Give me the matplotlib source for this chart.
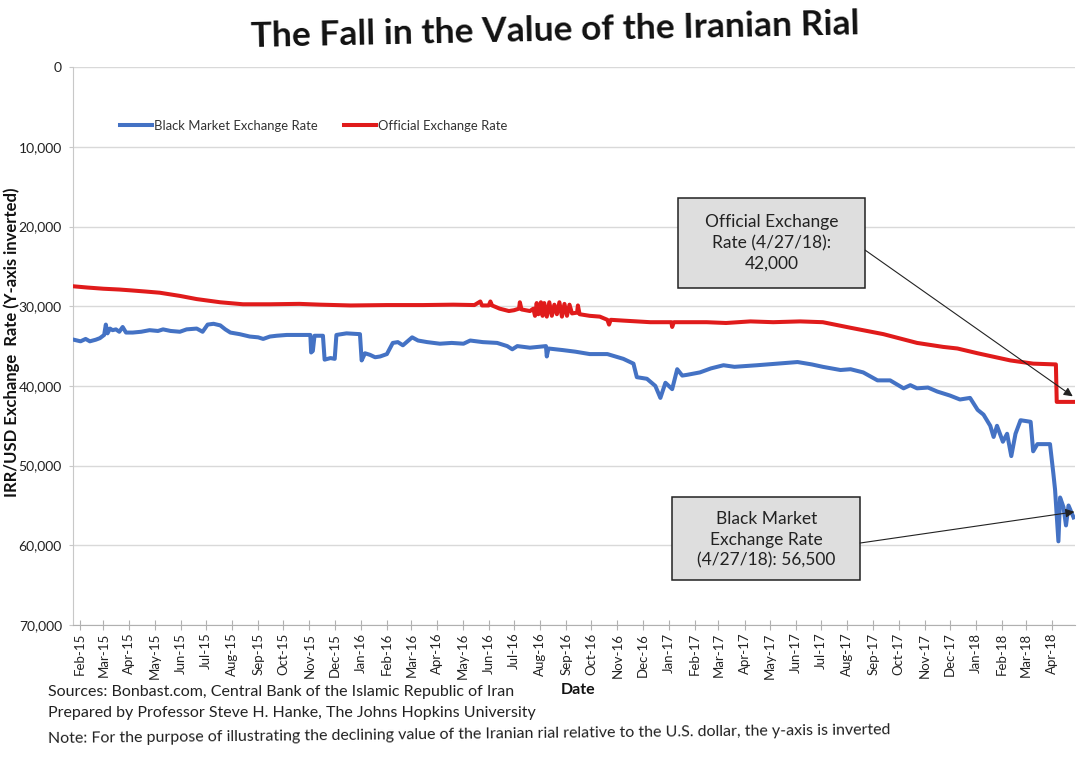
import matplotlib
matplotlib.use("Agg")
import matplotlib.pyplot as plt
import matplotlib.dates as mdates
from matplotlib.ticker import FuncFormatter
from matplotlib.patches import Rectangle
import pandas as pd

# ---------------- data ----------------
bm_dates = [
    "2015-01-25", "2015-02-02", "2015-02-08", "2015-02-13", "2015-02-20", "2015-02-25",
    "2015-03-02", "2015-03-04", "2015-03-06", "2015-03-09", "2015-03-12", "2015-03-16",
    "2015-03-20", "2015-03-24", "2015-03-28", "2015-04-05", "2015-04-15", "2015-04-25",
    "2015-05-05", "2015-05-11", "2015-05-20", "2015-05-31", "2015-06-08", "2015-06-20",
    "2015-06-27", "2015-07-03", "2015-07-10", "2015-07-18", "2015-07-24", "2015-07-30",
    "2015-08-10", "2015-08-22", "2015-09-01", "2015-09-07", "2015-09-15", "2015-09-23",
    "2015-10-05", "2015-10-21", "2015-11-02", "2015-11-03", "2015-11-05", "2015-11-07",
    "2015-11-17", "2015-11-19", "2015-11-26", "2015-12-01", "2015-12-03", "2015-12-15",
    "2015-12-31", "2016-01-02", "2016-01-06", "2016-01-12", "2016-01-18", "2016-01-24",
    "2016-02-01", "2016-02-08", "2016-02-14", "2016-02-20", "2016-03-02", "2016-03-09",
    "2016-03-20", "2016-04-04", "2016-04-18", "2016-05-02", "2016-05-10", "2016-05-25",
    "2016-06-11", "2016-06-23", "2016-06-29", "2016-07-05", "2016-07-20", "2016-08-08",
    "2016-08-09", "2016-08-11", "2016-08-28", "2016-09-12", "2016-09-29", "2016-10-20",
    "2016-11-08", "2016-11-20", "2016-11-24", "2016-12-06", "2016-12-16", "2016-12-22",
    "2016-12-28", "2017-01-05", "2017-01-11", "2017-01-17", "2017-01-23", "2017-02-07",
    "2017-02-20", "2017-03-07", "2017-03-20", "2017-04-16", "2017-05-10", "2017-06-03",
    "2017-06-20", "2017-07-03", "2017-07-24", "2017-08-05", "2017-08-20", "2017-09-06",
    "2017-09-21", "2017-10-07", "2017-10-15", "2017-10-23", "2017-11-05", "2017-11-16",
    "2017-12-01", "2017-12-13", "2017-12-25", "2018-01-03", "2018-01-10", "2018-01-18",
    "2018-01-22", "2018-01-26", "2018-02-02", "2018-02-07", "2018-02-12", "2018-02-17",
    "2018-02-23", "2018-03-07", "2018-03-10", "2018-03-15", "2018-03-30", "2018-04-03",
    "2018-04-05", "2018-04-09", "2018-04-11", "2018-04-15", "2018-04-18", "2018-04-21",
    "2018-04-27",
]
bm_values = [
    34200, 34400, 34100, 34400, 34200, 34000,
    33600, 32300, 33400, 32800, 33000, 32900,
    33200, 32600, 33300, 33300, 33200, 33000,
    33100, 32900, 33100, 33200, 32900, 32800,
    33200, 32300, 32200, 32400, 32900, 33300,
    33500, 33800, 33900, 34100, 33800, 33700,
    33600, 33600, 33600, 35800, 35600, 33700,
    33700, 36700, 36500, 36600, 33600, 33400,
    33500, 36800, 35900, 36100, 36400, 36300,
    36000, 34600, 34500, 34900, 33900, 34300,
    34500, 34700, 34600, 34700, 34300, 34500,
    34600, 35000, 35400, 35000, 35200, 35000,
    36300, 35300, 35500, 35700, 36000, 36000,
    36600, 37200, 38900, 39100, 40000, 41500,
    39600, 40400, 37900, 38700, 38600, 38300,
    37800, 37400, 37600, 37400, 37200, 37000,
    37300, 37600, 38000, 37900, 38300, 39300,
    39300, 40300, 39900, 40300, 40200, 40700,
    41200, 41700, 41500, 43000, 43600, 45000,
    46400, 45000, 47000, 46000, 48800, 46000,
    44300, 44500, 48200, 47300, 47300, 51000,
    53000, 59500, 54000, 55200, 57500, 55000,
    56500,
]

off_dates = [
    "2015-01-25", "2015-02-10", "2015-03-01", "2015-03-20", "2015-04-02", "2015-04-20",
    "2015-05-07", "2015-05-31", "2015-06-20", "2015-07-18", "2015-08-14", "2015-09-15",
    "2015-10-20", "2015-11-14", "2015-12-20", "2016-02-01", "2016-03-15", "2016-04-20",
    "2016-05-15", "2016-05-22", "2016-05-24", "2016-06-01", "2016-06-03", "2016-06-05",
    "2016-06-14", "2016-06-25", "2016-07-01", "2016-07-07", "2016-07-08", "2016-07-10",
    "2016-07-20", "2016-07-24", "2016-07-26", "2016-07-28", "2016-07-30", "2016-08-02",
    "2016-08-04", "2016-08-06", "2016-08-09", "2016-08-12", "2016-08-15", "2016-08-18",
    "2016-08-21", "2016-08-24", "2016-08-27", "2016-08-30", "2016-09-02", "2016-09-05",
    "2016-09-08", "2016-09-14", "2016-09-15", "2016-09-17", "2016-09-29", "2016-10-11",
    "2016-10-20", "2016-10-22", "2016-10-24", "2016-11-08", "2016-12-10", "2017-01-04",
    "2017-01-05", "2017-01-07", "2017-02-15", "2017-03-10", "2017-04-08", "2017-05-05",
    "2017-06-06", "2017-07-03", "2017-08-05", "2017-09-13", "2017-10-23", "2017-11-23",
    "2017-12-10", "2018-01-03", "2018-02-11", "2018-03-10", "2018-04-06", "2018-04-07",
    "2018-04-27",
]
off_values = [
    27500, 27650, 27800, 27900, 28000, 28150,
    28300, 28700, 29100, 29500, 29750, 29750,
    29700, 29800, 29900, 29850, 29850, 29800,
    29850, 29400, 29900, 29900, 29400, 29900,
    30300, 30600, 30500, 30300, 29500, 30400,
    30600, 30300, 31200, 29600, 31000, 29500,
    31200, 29600, 31300, 29500, 31200, 29800,
    31000, 29500, 31300, 29700, 31200, 29800,
    30900, 30800, 29900, 31000, 31200, 31300,
    31700, 32300, 31700, 31800, 32000, 32000,
    32600, 32000, 32000, 32100, 31900, 32000,
    31900, 32000, 32700, 33500, 34600, 35100,
    35300, 35900, 36800, 37200, 37300, 42000,
    42000,
]

y_ticks = [0, 10000, 20000, 30000, 40000, 50000, 60000, 70000]

title = "The Fall in the Value of the Iranian Rial"
y_label = "IRR/USD Exchange  Rate (Y-axis inverted)"
x_label = "Date"
series_names = ["Black Market Exchange Rate", "Official Exchange Rate"]
official_callout = "Official Exchange\nRate (4/27/18):\n42,000"
black_callout = "Black Market\nExchange Rate\n(4/27/18): 56,500"
official_point = ("2018-04-26", 41300)
black_point = ("2018-04-28", 55800)
footnotes = [
    "Sources: Bonbast.com, Central Bank of the Islamic Republic of Iran",
    "Prepared by Professor Steve H. Hanke, The Johns Hopkins University",
    "Note: For the purpose of illustrating the declining value of the Iranian rial relative to the U.S. dollar, the y-axis is inverted",
]

# ---------------- figure ----------------
plt.rcParams["font.family"] = ["Lato", "DejaVu Sans"]
BLUE = "#4472C4"
RED = "#E01B1B"

fig = plt.figure(figsize=(10.8, 7.6), dpi=100)
ax = fig.add_axes([0.0676, 0.1776, 0.928, 0.734])

ax.plot(pd.to_datetime(bm_dates), bm_values, color=BLUE, lw=2.9,
        solid_joinstyle="round", label=series_names[0], zorder=3)
ax.plot(pd.to_datetime(off_dates), off_values, color=RED, lw=2.9,
        solid_joinstyle="round", label=series_names[1], zorder=3)

ax.set_ylim(70000, 0)
ax.set_yticks(y_ticks)
ax.yaxis.set_major_formatter(FuncFormatter(lambda v, p: f"{int(v):,}"))
ax.set_xlim(pd.Timestamp("2015-01-24"), pd.Timestamp("2018-04-29"))
ax.xaxis.set_major_locator(mdates.MonthLocator())
ax.xaxis.set_major_formatter(mdates.DateFormatter("%b-%y"))
for lbl in ax.get_xticklabels():
    lbl.set_rotation(90)

ax.grid(axis="y", color="#d9d9d9", lw=1)
ax.set_axisbelow(True)
for s in ("top", "right"):
    ax.spines[s].set_visible(False)
ax.spines["left"].set_color("#c8c8c8")
ax.spines["bottom"].set_color("#b0b0b0")
ax.tick_params(axis="x", direction="inout", length=7, color="#b0b0b0",
               labelsize=9.5, pad=2, labelcolor="#222222")
ax.tick_params(axis="y", direction="out", length=3, color="#c8c8c8",
               labelsize=10, pad=5, labelcolor="#222222")

leg = ax.legend(loc="upper left", bbox_to_anchor=(0.035, 0.927), ncol=2,
                frameon=False, fontsize=9.4, handlelength=2.5,
                handletextpad=0.1, columnspacing=2.0)
for t in leg.get_texts():
    t.set_color("#333333")

# call-out boxes
ax.add_patch(Rectangle((0.6038, 0.6039), 0.1866, 0.1613, transform=ax.transAxes,
                       facecolor="#dedede", edgecolor="#222222", lw=1.1, zorder=4))
ax.text(0.6971, 0.6846, official_callout, transform=ax.transAxes, ha="center",
        va="center", fontsize=12.5, linespacing=1.35, color="#222222", zorder=5)
ax.annotate("", xy=(pd.Timestamp(official_point[0]), official_point[1]),
            xytext=(0.7904, 0.672), textcoords="axes fraction",
            arrowprops=dict(arrowstyle="-|>", color="#222222", lw=0.8,
                            mutation_scale=13, shrinkA=0, shrinkB=0), zorder=6)

ax.add_patch(Rectangle((0.5978, 0.0806), 0.1876, 0.1487, transform=ax.transAxes,
                       facecolor="#dedede", edgecolor="#222222", lw=1.1, zorder=4))
ax.text(0.6916, 0.1523, black_callout, transform=ax.transAxes, ha="center",
        va="center", fontsize=12.5, linespacing=1.35, color="#222222", zorder=5)
ax.annotate("", xy=(pd.Timestamp(black_point[0]), black_point[1]),
            xytext=(0.7854, 0.147), textcoords="axes fraction",
            arrowprops=dict(arrowstyle="-|>", color="#222222", lw=0.8,
                            mutation_scale=13, shrinkA=0, shrinkB=0), zorder=6)

# texts
fig.text(0.514, 0.960, title, ha="center", va="center", fontsize=25.5,
         fontweight="bold", color="#111111", rotation=1.2)
fig.text(0.011, 0.55, y_label, rotation=90, ha="center", va="center",
         fontsize=12, fontweight="bold", color="#111111")
fig.text(0.535, 0.092, x_label, ha="center", va="center", fontsize=11.5,
         fontweight="bold", color="#111111")
fig.text(0.0444, 0.089, footnotes[0], ha="left", va="center", fontsize=11.5,
         color="#222222")
fig.text(0.0444, 0.062, footnotes[1], ha="left", va="center", fontsize=11.5,
         color="#222222")
fig.text(0.0444, 0.027, footnotes[2], ha="left", va="center", fontsize=11.5,
         color="#222222", rotation=0.6, rotation_mode="anchor")

fig.savefig("out.png", dpi=100)
